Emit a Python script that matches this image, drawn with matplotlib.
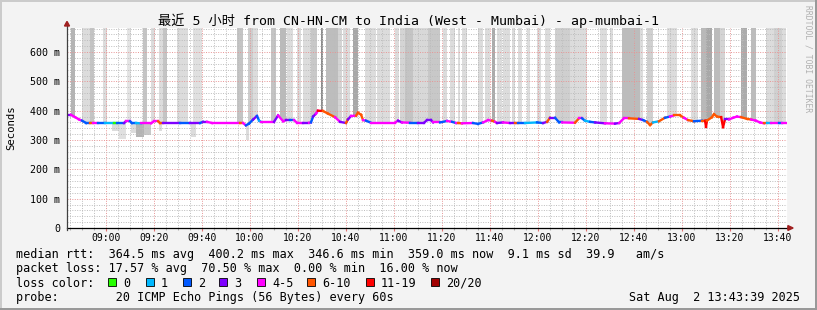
import matplotlib
matplotlib.use("Agg")
import matplotlib.pyplot as plt
import matplotlib.ticker as plticker
from matplotlib.collections import LineCollection
from matplotlib.patches import Rectangle, Polygon
import numpy as np

plt.rcParams['font.family'] = ['DejaVu Sans Mono', 'Noto Sans CJK SC']

W, H = 817, 310

# times in minutes after 08:00, rtt in ms
med_t = [43.8, 45.4, 47.1, 48.8, 50.0, 51.7, 53.3, 54.6, 56.7, 59.6,
         63.3, 64.6, 67.5, 68.3, 70.0, 70.8, 72.5, 74.6, 78.8, 80.0,
         81.7, 82.5, 83.8, 90.8, 95.0, 99.2, 100.4, 102.1, 104.2, 115.8,
         117.1, 118.3, 119.6, 121.3, 122.9, 123.8, 124.6, 130.0, 131.7, 133.8,
         135.0, 136.7, 138.3, 139.6, 142.1, 144.6, 145.4, 146.3, 147.5, 148.3,
         150.4, 152.5, 155.4, 157.5, 160.0, 160.8, 162.1, 164.2, 165.0, 166.3,
         167.1, 168.3, 170.4, 180.4, 181.7, 183.3, 186.7, 190.0, 192.5, 193.8,
         195.4, 196.3, 199.2, 202.1, 204.2, 205.8, 206.7, 208.3, 212.9, 215.0,
         217.1, 219.2, 220.8, 222.1, 222.9, 225.4, 228.3, 230.4, 231.7, 234.6,
         239.6, 242.1, 243.8, 245.0, 247.1, 248.8, 250.0, 255.4, 257.1, 258.3,
         259.6, 261.7, 263.8, 267.9, 272.1, 273.8, 275.8, 277.9, 282.1, 283.8,
         285.4, 286.7, 287.9, 290.4, 292.9, 295.0, 296.7, 299.2, 300.8, 302.5,
         305.0, 308.3, 309.6, 310.0, 310.4, 312.5, 313.3, 314.6, 316.3, 317.1,
         317.9, 319.6, 321.3, 322.9, 324.6, 327.1, 328.8, 330.8, 332.5, 334.2,
         335.4, 337.1, 340.4, 341.7, 343.6]
med_v = [386, 386, 378, 370, 366, 358, 358, 358, 358, 358,
         358, 358, 358, 364, 364, 358, 358, 357, 357, 364,
         364, 358, 358, 358, 358, 358, 362, 362, 358, 358,
         358, 350, 356, 370, 382, 366, 362, 362, 384, 364,
         368, 368, 368, 359, 359, 359, 360, 380, 390, 400,
         399, 390, 378, 362, 358, 370, 382, 383, 393, 386,
         368, 366, 359, 359, 366, 360, 359, 359, 359, 368,
         368, 360, 360, 365, 362, 358, 358, 357, 358, 355,
         360, 368, 366, 362, 358, 360, 358, 358, 358, 358,
         360, 358, 362, 376, 376, 360, 360, 359, 374, 374,
         366, 362, 360, 357, 356, 358, 374, 374, 372, 368,
         362, 351, 360, 364, 376, 380, 384, 384, 376, 368,
         364, 366, 366, 345, 366, 378, 388, 380, 378, 344,
         370, 370, 376, 380, 378, 372, 370, 366, 360, 357,
         357, 357, 357, 357, 357]
med_loss = [3, 4, 4, 4, 2, 2, 5, 4, 2, 1,
            0, 2, 3, 4, 2, 2, 1, 4, 4, 4,
            5, 5, 3, 2, 3, 2, 3, 4, 4, 5,
            4, 2, 2, 3, 2, 1, 4, 3, 4, 4,
            3, 2, 4, 4, 3, 4, 2, 3, 4, 6,
            5, 5, 4, 3, 5, 3, 4, 5, 5, 5,
            4, 2, 4, 4, 3, 4, 2, 3, 3, 3,
            3, 4, 2, 4, 2, 4, 5, 4, 2, 2,
            4, 4, 5, 4, 3, 4, 3, 5, 2, 1,
            2, 3, 5, 3, 2, 2, 4, 5, 4, 2,
            1, 2, 3, 4, 3, 4, 4, 5, 3, 2,
            5, 5, 1, 5, 2, 4, 5, 5, 4, 5,
            2, 5, 6, 6, 5, 5, 5, 5, 6, 6,
            3, 4, 4, 4, 5, 5, 4, 4, 4, 5,
            1, 4, 2, 4, 4]

loss_labels = ['0', '1', '2', '3', '4-5', '6-10', '11-19', '20/20']
loss_colors = ['#26ff00', '#00b8ff', '#0059ff', '#7e00ff',
               '#ff00ff', '#ff5500', '#ff0000', '#a10000']

# smoke reaching above the chart top
smoke_start = [45.4, 50.0, 53.3, 58.8, 68.8, 75.4, 78.8, 82.1, 83.8, 89.6,
               96.3, 114.6, 119.2, 121.3, 128.8, 132.5, 135.4, 139.6, 142.1, 145.4,
               149.6, 151.7, 156.7, 158.8, 162.9, 167.9, 172.9, 180.4, 182.5, 184.6,
               187.9, 194.2, 200.4, 203.3, 206.7, 208.3, 215.0, 217.9, 220.8, 222.9,
               225.4, 229.2, 231.7, 235.4, 239.6, 242.9, 247.1, 253.3, 265.8, 270.0,
               275.0, 282.5, 285.4, 293.8, 303.8, 308.0, 310.0, 313.3, 315.8, 324.6,
               328.8, 335.0, 338.3, 341.7]
smoke_end = [47.1, 53.3, 55.0, 60.4, 70.4, 77.1, 80.4, 83.8, 85.4, 94.2,
             100.0, 117.1, 121.3, 123.3, 130.8, 135.0, 137.9, 141.3, 145.4, 147.9,
             150.4, 156.7, 158.3, 161.7, 165.0, 172.5, 178.3, 182.1, 184.6, 187.9,
             194.2, 199.2, 202.1, 205.4, 207.5, 210.4, 217.1, 220.0, 222.1, 225.0,
             228.3, 230.4, 233.3, 236.7, 241.3, 245.0, 253.3, 260.4, 268.8, 271.3,
             282.5, 283.8, 287.9, 297.9, 306.7, 310.0, 312.5, 315.8, 317.9, 327.1,
             330.8, 338.3, 341.7, 343.3]
smoke_grey = ['#b4b4b4', '#dcdcdc', '#c4c4c4', '#dcdcdc', '#e4e4e4', '#c4c4c4', '#dcdcdc', '#dcdcdc', '#c4c4c4', '#dcdcdc',
              '#e0e0e0', '#c4c4c4', '#cdcdcd', '#dcdcdc', '#c4c4c4', '#bababa', '#dcdcdc', '#dcdcdc', '#dcdcdc', '#c8c8c8',
              '#8c8c8c', '#bdbdbd', '#d4d4d4', '#dcdcdc', '#a8a8a8', '#dcdcdc', '#dcdcdc', '#dcdcdc', '#d4d4d4', '#c4c4c4',
              '#d8d8d8', '#c8c8c8', '#dcdcdc', '#dcdcdc', '#dcdcdc', '#dcdcdc', '#dcdcdc', '#dcdcdc', '#ababab', '#dcdcdc',
              '#dcdcdc', '#dcdcdc', '#dcdcdc', '#dcdcdc', '#dcdcdc', '#dcdcdc', '#cfcfcf', '#dcdcdc', '#dcdcdc', '#dcdcdc',
              '#bcbcbc', '#dcdcdc', '#d0d0d0', '#dcdcdc', '#dcdcdc', '#b8b8b8', '#a8a8a8', '#bcbcbc', '#d4d4d4', '#ababab',
              '#bcbcbc', '#dcdcdc', '#d0d0d0', '#dcdcdc']

# smoke below the median
low_start = [62.5, 65.4, 70.4, 72.5, 75.8, 82.1, 95.4, 118.3]
low_end = [65.4, 68.3, 72.5, 75.8, 78.8, 83.3, 97.5, 119.6]
low_bottom = [330, 303, 324, 310, 317, 330, 311, 300]
low_top = [357, 357, 357, 357, 357, 358, 358, 352]
low_grey = ['#dcdcdc', '#e0e0e0', '#dcdcdc', '#b4b4b4', '#c8c8c8', '#dcdcdc', '#dcdcdc', '#dcdcdc']

tick_minutes = list(range(60, 341, 20))
tick_labels = ['%02d:%02d' % (8 + m // 60, m % 60) for m in tick_minutes]
y_ticks = [0, 100, 200, 300, 400, 500, 600]
y_labels = ['0', '100 m', '200 m', '300 m', '400 m', '500 m', '600 m']

title = '最近 5 小时 from CN-HN-CM to India (West - Mumbai) - ap-mumbai-1'
line_rtt = 'median rtt:  364.5 ms avg  400.2 ms max  346.6 ms min  359.0 ms now  9.1 ms sd  39.9   am/s'
line_loss = 'packet loss: 17.57 % avg  70.50 % max  0.00 % min  16.00 % now'
line_probe = 'probe:        20 ICMP Echo Pings (56 Bytes) every 60s'
stamp = 'Sat Aug  2 13:43:39 2025'

bg = '#f3f3f3'
fig = plt.figure(figsize=(W / 100, H / 100), dpi=100)
fig.patch.set_facecolor(bg)


def fx(x):
    return x / W


def fy(y):
    return 1 - y / H


ax = fig.add_axes([fx(67), fy(228), 720 / W, 200 / H])
ax.set_facecolor('white')
ax.set_xlim(43.75, 343.75)
ax.set_ylim(0, 682)

for s, e, g in zip(smoke_start, smoke_end, smoke_grey):
    ax.axvspan(s, e, color=g, lw=0, zorder=0.5)
ax.fill_between(med_t, 0, med_v, color='white', lw=0, zorder=0.6)
for s, e, b, t, g in zip(low_start, low_end, low_bottom, low_top, low_grey):
    ax.bar(s, t - b, bottom=b, width=e - s, align='edge', color=g, lw=0, zorder=0.7)

# median line coloured by loss
pts = np.column_stack([med_t, med_v])
segs = np.stack([pts[:-1], pts[1:]], axis=1)
lc = LineCollection(segs, colors=[loss_colors[k] for k in med_loss[:-1]],
                    linewidths=1.7, capstyle='projecting', zorder=3)
ax.add_collection(lc)

ax.xaxis.set_major_locator(plticker.FixedLocator(tick_minutes))
ax.xaxis.set_major_formatter(plticker.FixedFormatter(tick_labels))
ax.xaxis.set_minor_locator(plticker.MultipleLocator(5))
ax.yaxis.set_major_locator(plticker.FixedLocator(y_ticks))
ax.yaxis.set_major_formatter(plticker.FixedFormatter(y_labels))
ax.yaxis.set_minor_locator(plticker.MultipleLocator(20))

ax.grid(which='minor', color='#bcbcbc', linestyle=(0, (1, 1.5)), linewidth=0.7)
ax.grid(which='major', color='#e89494', linestyle=(0, (1, 1.5)), linewidth=0.7)

ax.tick_params(axis='x', which='major', length=2, width=0.8, color='#e07070',
               pad=1.5, labelsize=7)
ax.tick_params(axis='x', which='minor', length=1.5, width=0.8, color='#b0b0b0')
ax.tick_params(axis='y', which='both', length=0, pad=5, labelsize=7.2)
for sp in ax.spines.values():
    sp.set_visible(False)

# axes with arrows
ax.plot([0, 1.002], [0, 0], transform=ax.transAxes, color='black', lw=0.9,
        clip_on=False, zorder=5)
ax.plot([0, 0], [-0.012, 1.012], transform=ax.transAxes, color='#404040', lw=0.9,
        clip_on=False, zorder=5)
ax.add_patch(Polygon([[1.0012, -0.012], [1.0012, 0.012], [1.0085, 0]],
                     transform=ax.transAxes, closed=True, color='#a02020',
                     clip_on=False, zorder=6))
ax.add_patch(Polygon([[-0.0035, 1.01], [0.0035, 1.01], [0, 1.033]],
                     transform=ax.transAxes, closed=True, color='#a02020',
                     clip_on=False, zorder=6))

# frame shading
fig.add_artist(Rectangle((0, fy(2)), 1, 2 / H, transform=fig.transFigure, color='#cbcbcb', lw=0))
fig.add_artist(Rectangle((0, 0), 2 / W, 1, transform=fig.transFigure, color='#cbcbcb', lw=0))
fig.add_artist(Rectangle((0, 0), 1, 2 / H, transform=fig.transFigure, color='#999999', lw=0))
fig.add_artist(Rectangle((fx(815), 0), 2 / W, 1, transform=fig.transFigure, color='#999999', lw=0))

fig.text(fx(408), fy(21), title, ha='center', va='center', fontsize=9.5)
fig.text(fx(11), fy(128), 'Seconds', rotation=90, ha='center', va='center', fontsize=7.7)
fig.text(fx(808), fy(5), 'RRDTOOL / TOBI OETIKER', rotation=270, ha='center', va='top',
         fontsize=5.8, color='#b0b0b0')

fs = 8.5
fig.text(fx(16), fy(258), line_rtt, fontsize=fs, va='baseline')
fig.text(fx(16), fy(272.3), line_loss, fontsize=fs, va='baseline')
fig.text(fx(16), fy(286.6), 'loss color:', fontsize=fs, va='baseline')
fig.text(fx(16), fy(301), line_probe, fontsize=fs, va='baseline')
fig.text(fx(800), fy(301), stamp, fontsize=fs, va='baseline', ha='right')

box_x = [108, 146, 183, 219, 257, 307, 366, 431]
for bx, col, lab in zip(box_x, loss_colors, loss_labels):
    fig.add_artist(Rectangle((fx(bx), fy(286)), 8 / W, 8 / H, transform=fig.transFigure,
                             facecolor=col, edgecolor='black', lw=0.6))
    fig.text(fx(bx + 15), fy(286.6), lab, fontsize=fs, va='baseline')

fig.savefig('out.png', dpi=100, facecolor=bg)
